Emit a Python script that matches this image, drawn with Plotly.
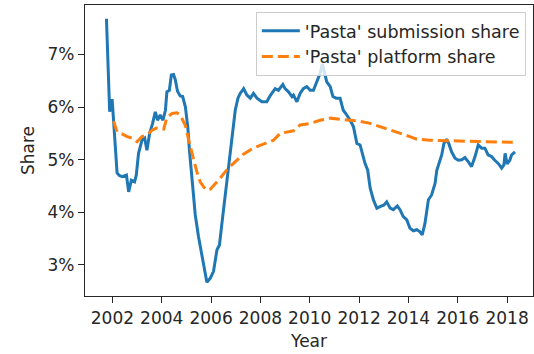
import plotly.graph_objects as go

# Monthly-ish share series, decimal years on x, percent on y
submission_years = [
    2001.76, 2001.89, 2001.99, 2002.03, 2002.19, 2002.28, 2002.40, 2002.57, 2002.66, 2002.77,
    2002.90, 2002.97, 2003.06, 2003.20, 2003.31, 2003.40, 2003.51, 2003.63, 2003.74, 2003.83,
    2003.94, 2004.05, 2004.15, 2004.21, 2004.31, 2004.39, 2004.48, 2004.55, 2004.64, 2004.75,
    2004.85, 2004.96, 2005.06, 2005.12, 2005.20, 2005.29, 2005.36, 2005.49, 2005.63, 2005.74,
    2005.83, 2005.97, 2006.10, 2006.24, 2006.34, 2006.44, 2006.57, 2006.71, 2006.85, 2006.98,
    2007.09, 2007.18, 2007.32, 2007.45, 2007.59, 2007.72, 2007.86, 2008.06, 2008.26, 2008.40,
    2008.60, 2008.73, 2008.91, 2009.00, 2009.14, 2009.28, 2009.34, 2009.48, 2009.61, 2009.74,
    2009.88, 2010.02, 2010.15, 2010.29, 2010.42, 2010.51, 2010.62, 2010.69, 2010.83, 2010.94,
    2011.07, 2011.23, 2011.30, 2011.36, 2011.50, 2011.64, 2011.77, 2011.91, 2012.04, 2012.11,
    2012.24, 2012.35, 2012.45, 2012.58, 2012.72, 2012.85, 2013.01, 2013.12, 2013.26, 2013.39,
    2013.55, 2013.66, 2013.79, 2013.93, 2014.06, 2014.20, 2014.34, 2014.47, 2014.56, 2014.67,
    2014.81, 2014.94, 2015.08, 2015.15, 2015.25, 2015.35, 2015.44, 2015.55, 2015.64, 2015.75,
    2015.89, 2016.02, 2016.16, 2016.29, 2016.43, 2016.56, 2016.70, 2016.83, 2016.97, 2017.10,
    2017.23, 2017.37, 2017.50, 2017.64, 2017.78, 2017.87, 2017.92, 2018.00, 2018.11, 2018.18,
    2018.32,
]
submission_share = [
    7.68, 5.91, 6.15, 5.89, 4.75, 4.70, 4.68, 4.71, 4.39, 4.61,
    4.58, 4.71, 5.12, 5.37, 5.41, 5.18, 5.50, 5.69, 5.91, 5.75,
    5.85, 5.75, 5.94, 6.29, 6.32, 6.61, 6.62, 6.52, 6.30, 6.21,
    6.20, 6.00, 5.60, 5.20, 4.75, 4.30, 3.95, 3.54, 3.16, 2.91,
    2.67, 2.75, 2.88, 3.29, 3.38, 3.79, 4.30, 4.87, 5.44, 5.94,
    6.17, 6.26, 6.35, 6.23, 6.17, 6.26, 6.17, 6.10, 6.10, 6.22,
    6.35, 6.32, 6.43, 6.35, 6.29, 6.20, 6.23, 6.10, 6.26, 6.35,
    6.39, 6.32, 6.32, 6.48, 6.64, 6.82, 6.64, 6.48, 6.39, 6.20,
    6.17, 6.17, 6.04, 5.94, 5.85, 5.75, 5.63, 5.31, 5.28, 5.15,
    4.93, 4.80, 4.46, 4.24, 4.08, 4.11, 4.14, 4.20, 4.08, 4.05,
    4.12, 4.05, 3.92, 3.86, 3.70, 3.65, 3.67, 3.63, 3.57, 3.79,
    4.24, 4.33, 4.55, 4.80, 4.93, 5.09, 5.31, 5.39, 5.30, 5.15,
    5.03, 4.99, 5.00, 5.04, 4.96, 4.87, 5.06, 5.28, 5.22, 5.22,
    5.09, 5.06, 4.99, 4.93, 4.84, 4.90, 5.12, 4.92, 4.99, 5.09,
    5.15,
]

platform_years = [
    2002.05, 2002.19, 2002.39, 2002.60, 2002.80, 2003.00, 2003.20, 2003.40, 2003.61, 2003.78,
    2004.08, 2004.21, 2004.42, 2004.62, 2004.75, 2004.96, 2005.08, 2005.20, 2005.32, 2005.44,
    2005.56, 2005.72, 2005.85, 2005.97, 2006.13, 2006.37, 2006.66, 2006.94, 2007.30, 2007.71,
    2008.11, 2008.53, 2008.80, 2009.07, 2009.34, 2009.61, 2010.02, 2010.42, 2010.83, 2011.23,
    2011.64, 2012.04, 2012.45, 2012.85, 2013.26, 2013.66, 2014.06, 2014.34, 2014.87, 2015.68,
    2016.49, 2017.30, 2018.23,
]
platform_share = [
    5.73, 5.53, 5.49, 5.44, 5.41, 5.34, 5.44, 5.47, 5.56, 5.60,
    5.58, 5.80, 5.88, 5.89, 5.85, 5.65, 5.40, 5.15, 4.95, 4.75,
    4.58, 4.47, 4.42, 4.44, 4.52, 4.65, 4.82, 4.95, 5.10, 5.22,
    5.30, 5.37, 5.50, 5.53, 5.55, 5.66, 5.69, 5.75, 5.79, 5.77,
    5.75, 5.73, 5.69, 5.63, 5.57, 5.50, 5.44, 5.39, 5.37, 5.36,
    5.35, 5.34, 5.33,
]

year_ticks = list(range(2002, 2019, 2))
share_ticks = [3, 4, 5, 6, 7]

FONT = "DejaVu Sans"
TEXT = "#262626"

fig = go.Figure()
fig.add_trace(go.Scatter(
    x=submission_years, y=submission_share, mode="lines",
    name="'Pasta' submission share",
    line=dict(color="#1f77b4", width=3),
))
fig.add_trace(go.Scatter(
    x=platform_years, y=platform_share, mode="lines",
    name="'Pasta' platform share",
    line=dict(color="#ff7f0e", width=3, dash="11px,5px"),
))

axis_common = dict(
    showgrid=False, zeroline=False,
    showline=True, linecolor="#262626", linewidth=1.2, mirror=True,
    ticks="outside", ticklen=6, tickwidth=1.2, tickcolor="#262626",
    tickfont=dict(family=FONT, size=17, color=TEXT),
)

fig.update_layout(
    width=534, height=354,
    margin=dict(l=85, r=1, t=5, b=58),
    paper_bgcolor="white", plot_bgcolor="white",
    font=dict(family=FONT, size=17, color=TEXT),
    showlegend=True,
    legend=dict(
        x=0.984, y=0.976, xanchor="right", yanchor="top",
        bgcolor="rgba(255,255,255,0.8)", bordercolor="#cccccc", borderwidth=1,
        font=dict(family=FONT, size=17.5, color=TEXT),
        tracegroupgap=0, itemwidth=38,
    ),
    xaxis=dict(
        range=[2000.89, 2019.05],
        tickvals=year_ticks, ticktext=[str(y) for y in year_ticks],
        title=dict(text="Year", font=dict(family=FONT, size=17, color=TEXT), standoff=8),
        **axis_common,
    ),
    yaxis=dict(
        range=[2.41, 7.94],
        tickvals=share_ticks, ticktext=[f"{v}%" for v in share_ticks],
        title=dict(text="Share", font=dict(family=FONT, size=17, color=TEXT), standoff=8),
        **axis_common,
    ),
)

fig.write_html("out.html")
